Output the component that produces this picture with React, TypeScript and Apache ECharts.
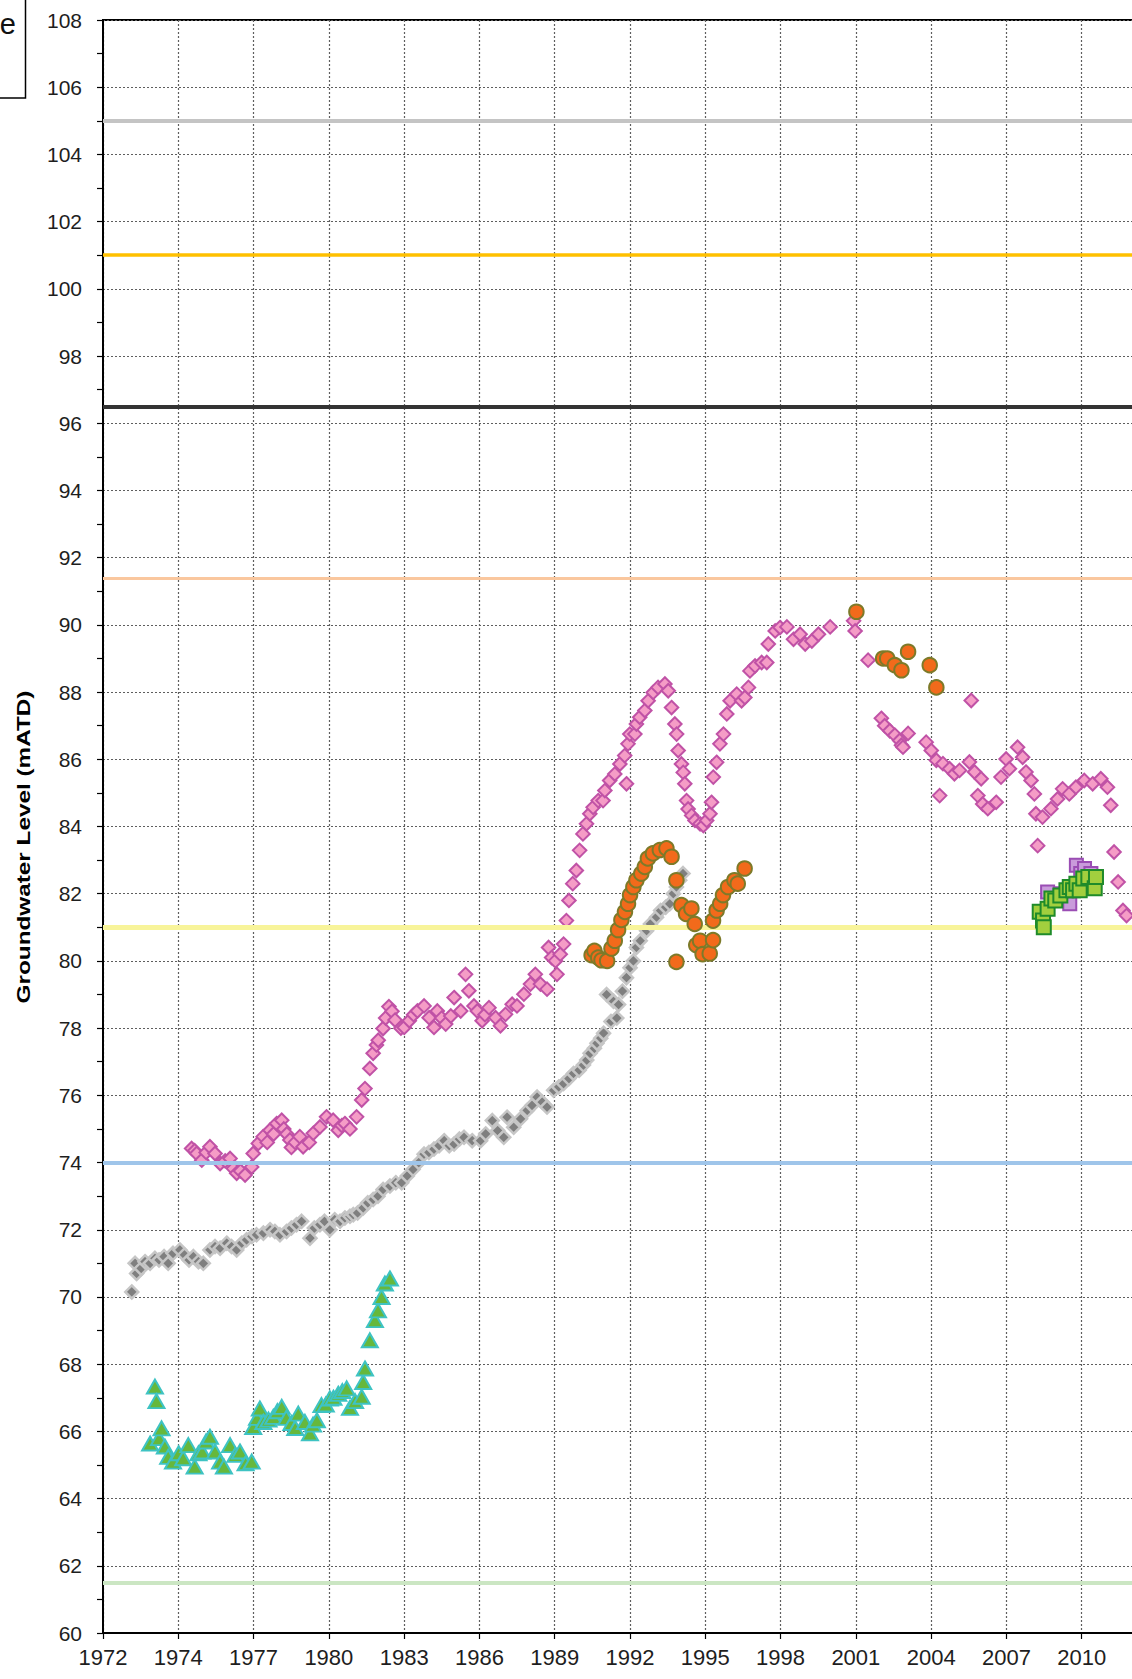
import React, { useEffect, useRef } from "react";
import * as echarts from "echarts";

// ---- axis definition -------------------------------------------------------
const X_ORIGIN = 1972; // decimal year at the left edge of the plot
const X_STEP = 1080 / 365.25; // years between labelled gridlines (~2.96)
const X_TICK_COUNT = 14;
const Y_MIN = 60;
const Y_MAX = 108;
const Y_STEP = 2;
const Y_TITLE = "Groundwater Level (mATD)";
const CORNER_TEXT = "e";

// ---- horizontal reference levels (mATD) ------------------------------------
const referenceLevels = [105, 101, 96.5, 91.4, 81, 74, 61.5];

// ---- observations: [decimal year, level mATD] ------------------------------
const grayReadings: [number, number][] = [
  [1973.13, 70.15], [1973.26, 71.0], [1973.32, 70.7], [1973.5, 70.85], [1973.65, 71.05],
  [1973.85, 71.0], [1974.04, 71.15], [1974.2, 71.1], [1974.4, 71.2], [1974.56, 71.0],
  [1974.75, 71.3], [1975.02, 71.4], [1975.2, 71.25], [1975.38, 71.1], [1975.55, 71.2],
  [1975.75, 71.05], [1975.94, 71.0], [1976.2, 71.4], [1976.4, 71.5], [1976.6, 71.45],
  [1976.86, 71.6], [1977.05, 71.5], [1977.25, 71.4], [1977.45, 71.6], [1977.64, 71.7],
  [1977.85, 71.8], [1978.03, 71.85], [1978.3, 71.9], [1978.56, 72.0], [1978.75, 71.95],
  [1978.95, 71.85], [1979.21, 71.95], [1979.4, 72.05], [1979.6, 72.15], [1979.8, 72.25],
  [1980.13, 71.75], [1980.3, 72.05], [1980.52, 72.15], [1980.7, 72.25], [1980.91, 72.0],
  [1981.1, 72.3], [1981.31, 72.25], [1981.5, 72.35], [1981.7, 72.4], [1981.83, 72.45],
  [1982.0, 72.5], [1982.22, 72.65], [1982.4, 72.8], [1982.61, 72.9], [1982.8, 73.0],
  [1983.0, 73.2], [1983.27, 73.3], [1983.5, 73.4], [1983.73, 73.4], [1983.95, 73.6],
  [1984.18, 73.8], [1984.4, 74.0], [1984.61, 74.25], [1984.8, 74.3], [1985.0, 74.4],
  [1985.2, 74.5], [1985.4, 74.65], [1985.6, 74.5], [1985.79, 74.55], [1986.0, 74.7],
  [1986.18, 74.75], [1986.5, 74.65], [1986.83, 74.65], [1987.03, 74.85], [1987.29, 75.25],
  [1987.5, 74.95], [1987.74, 74.75], [1987.87, 75.35], [1988.13, 75.05], [1988.4, 75.3],
  [1988.66, 75.55], [1988.85, 75.7], [1989.05, 75.95], [1989.25, 75.8], [1989.44, 75.65],
  [1989.7, 76.15], [1989.9, 76.25], [1990.09, 76.35], [1990.3, 76.5], [1990.48, 76.65],
  [1990.7, 76.75], [1990.87, 76.9], [1991.0, 77.05], [1991.13, 77.25], [1991.3, 77.4],
  [1991.4, 77.55], [1991.55, 77.7], [1991.66, 77.85], [1991.78, 79.0], [1991.95, 78.2],
  [1992.05, 78.8], [1992.18, 78.3], [1992.25, 78.7], [1992.4, 79.1], [1992.56, 79.5],
  [1992.7, 79.8], [1992.83, 80.0], [1992.95, 80.4], [1993.1, 80.6], [1993.35, 80.9],
  [1993.5, 81.1], [1993.74, 81.3], [1993.9, 81.5], [1994.1, 81.6], [1994.26, 81.7],
  [1994.4, 82.0], [1994.52, 82.2], [1994.65, 82.4], [1994.78, 82.6],
];

const pinkReadings: [number, number][] = [
  [1975.48, 74.42], [1975.6, 74.35], [1975.68, 74.27], [1975.88, 74.07], [1976.05, 74.3],
  [1976.2, 74.47], [1976.4, 74.27], [1976.6, 73.97], [1976.8, 74.05], [1976.99, 74.12],
  [1977.12, 73.82], [1977.25, 73.68], [1977.4, 73.75], [1977.58, 73.63], [1977.84, 73.87],
  [1977.9, 74.27], [1978.1, 74.57], [1978.29, 74.77], [1978.45, 74.6], [1978.56, 74.96],
  [1978.7, 74.85], [1978.82, 75.16], [1979.02, 75.26], [1979.1, 75.0], [1979.22, 74.85],
  [1979.34, 74.67], [1979.4, 74.45], [1979.55, 74.6], [1979.73, 74.77], [1979.86, 74.47],
  [1980.1, 74.6], [1980.26, 74.87], [1980.52, 75.06], [1980.78, 75.36], [1981.04, 75.26],
  [1981.24, 74.96], [1981.38, 75.1], [1981.5, 75.16], [1981.7, 75.0], [1981.96, 75.36],
  [1982.16, 75.86], [1982.29, 76.2], [1982.48, 76.8], [1982.61, 77.25], [1982.74, 77.5],
  [1982.81, 77.64], [1983.0, 77.99], [1983.1, 78.3], [1983.23, 78.64], [1983.35, 78.5],
  [1983.47, 78.24], [1983.7, 78.0], [1983.83, 78.02], [1984.03, 78.22], [1984.2, 78.4],
  [1984.35, 78.51], [1984.61, 78.66], [1984.81, 78.31], [1985.0, 78.02], [1985.13, 78.51],
  [1985.3, 78.3], [1985.46, 78.12], [1985.66, 78.36], [1985.79, 78.91], [1986.05, 78.51],
  [1986.24, 79.6], [1986.37, 79.11], [1986.57, 78.66], [1986.7, 78.51], [1986.89, 78.22],
  [1987.0, 78.4], [1987.16, 78.61], [1987.42, 78.31], [1987.61, 78.07], [1987.81, 78.41],
  [1988.07, 78.71], [1988.26, 78.66], [1988.53, 79.01], [1988.79, 79.31], [1988.98, 79.6],
  [1989.18, 79.31], [1989.44, 79.16], [1989.5, 80.4], [1989.62, 80.1], [1989.77, 80.0],
  [1989.83, 79.6], [1989.96, 80.2], [1990.09, 80.5], [1990.2, 81.2], [1990.3, 81.8],
  [1990.45, 82.3], [1990.59, 82.69], [1990.72, 83.29], [1990.85, 83.78], [1990.99, 84.08],
  [1991.12, 84.38], [1991.25, 84.57], [1991.45, 84.77], [1991.64, 84.77], [1991.71, 85.07],
  [1991.9, 85.37], [1992.1, 85.56], [1992.3, 85.86], [1992.49, 86.11], [1992.56, 85.27],
  [1992.62, 86.46], [1992.69, 86.75], [1992.89, 86.75], [1992.95, 87.05], [1993.08, 87.25],
  [1993.28, 87.45], [1993.41, 87.74], [1993.61, 87.99], [1993.8, 88.14], [1994.07, 88.24],
  [1994.2, 88.04], [1994.33, 87.54], [1994.46, 87.05], [1994.53, 86.75], [1994.59, 86.26],
  [1994.72, 85.86], [1994.79, 85.61], [1994.85, 85.27], [1994.92, 84.77], [1994.98, 84.52],
  [1995.12, 84.33], [1995.25, 84.18], [1995.45, 84.08], [1995.58, 84.03], [1995.71, 84.18],
  [1995.84, 84.38], [1995.9, 84.72], [1995.97, 85.47], [1996.1, 85.91], [1996.23, 86.46],
  [1996.37, 86.75], [1996.5, 87.35], [1996.63, 87.74], [1996.89, 87.94], [1997.08, 87.74],
  [1997.21, 87.84], [1997.35, 88.14], [1997.41, 88.63], [1997.61, 88.78], [1997.87, 88.88],
  [1998.07, 88.88], [1998.13, 89.43], [1998.4, 89.82], [1998.59, 89.92], [1998.86, 89.94],
  [1999.12, 89.57], [1999.38, 89.72], [1999.58, 89.43], [1999.84, 89.52], [2000.1, 89.72],
  [2000.56, 89.94], [2001.48, 90.12], [2001.54, 89.82], [2002.05, 88.95], [2002.57, 87.22],
  [2002.7, 87.0], [2002.9, 86.85], [2003.1, 86.72], [2003.29, 86.56], [2003.36, 86.42],
  [2003.42, 86.36], [2003.62, 86.77], [2004.33, 86.51], [2004.53, 86.26], [2004.73, 85.97],
  [2004.86, 84.92], [2004.99, 85.87], [2005.25, 85.72], [2005.44, 85.57], [2005.64, 85.67],
  [2006.03, 85.92], [2006.1, 87.75], [2006.23, 85.62], [2006.36, 84.92], [2006.49, 85.42],
  [2006.55, 84.67], [2006.75, 84.53], [2007.08, 84.72], [2007.27, 85.47], [2007.47, 86.01],
  [2007.6, 85.72], [2007.92, 86.36], [2008.12, 86.06], [2008.25, 85.62], [2008.45, 85.37],
  [2008.58, 84.97], [2008.64, 84.38], [2008.71, 83.43], [2008.9, 84.28], [2009.23, 84.53],
  [2009.49, 84.82], [2009.69, 85.12], [2009.95, 84.97], [2010.21, 85.17], [2010.54, 85.37],
  [2010.87, 85.27], [2011.19, 85.42], [2011.45, 85.17], [2011.58, 84.63], [2011.71, 83.24],
  [2011.87, 82.35], [2012.06, 81.5], [2012.2, 81.35],
];

const triangleReadings: [number, number][] = [
  [1973.85, 65.64], [1974.04, 67.33], [1974.1, 66.9], [1974.2, 65.8], [1974.3, 66.09],
  [1974.43, 65.55], [1974.56, 65.24], [1974.75, 65.1], [1974.97, 65.35], [1975.15, 65.2],
  [1975.35, 65.59], [1975.6, 64.95], [1975.75, 65.35], [1975.9, 65.4], [1976.05, 65.7],
  [1976.2, 65.84], [1976.4, 65.4], [1976.6, 65.1], [1976.75, 64.95], [1976.99, 65.59],
  [1977.2, 65.3], [1977.38, 65.4], [1977.6, 65.05], [1977.84, 65.1], [1977.9, 66.13],
  [1978.05, 66.4], [1978.16, 66.68], [1978.3, 66.28], [1978.5, 66.35], [1978.69, 66.43],
  [1978.85, 66.6], [1979.02, 66.73], [1979.2, 66.4], [1979.4, 66.25], [1979.55, 66.1],
  [1979.67, 66.53], [1979.93, 66.28], [1980.13, 65.94], [1980.25, 66.2], [1980.4, 66.33],
  [1980.58, 66.78], [1980.75, 66.8], [1980.91, 66.98], [1981.05, 67.0], [1981.24, 67.12],
  [1981.4, 67.2], [1981.57, 67.28], [1981.7, 66.7], [1981.9, 66.9], [1982.16, 67.03],
  [1982.22, 67.47], [1982.29, 67.87], [1982.48, 68.71], [1982.68, 69.31], [1982.8, 69.6],
  [1982.94, 70.0], [1983.07, 70.4], [1983.27, 70.55],
];

const orangeReadings: [number, number][] = [
  [1991.19, 80.17], [1991.3, 80.3], [1991.45, 80.1], [1991.58, 80.02], [1991.8, 80.0],
  [1991.97, 80.37], [1992.1, 80.6], [1992.23, 80.92], [1992.36, 81.22], [1992.5, 81.46],
  [1992.62, 81.7], [1992.7, 81.96], [1992.83, 82.2], [1992.95, 82.4], [1993.14, 82.6],
  [1993.28, 82.8], [1993.4, 83.05], [1993.6, 83.2], [1993.87, 83.3], [1994.13, 83.35],
  [1994.33, 83.1], [1994.52, 82.4], [1994.52, 79.97], [1994.72, 81.66], [1994.9, 81.4],
  [1995.11, 81.56], [1995.24, 81.1], [1995.3, 80.47], [1995.45, 80.6], [1995.55, 80.2],
  [1995.83, 80.22], [1995.96, 80.62], [1995.96, 81.2], [1996.1, 81.5], [1996.24, 81.7],
  [1996.35, 81.96], [1996.55, 82.2], [1996.8, 82.4], [1996.93, 82.3], [1997.2, 82.75],
  [2001.59, 90.39], [2002.64, 89.0], [2002.8, 89.0], [2003.1, 88.8], [2003.36, 88.65],
  [2003.62, 89.2], [2004.47, 88.8], [2004.73, 88.14],
];

const purpleSquareReadings: [number, number][] = [
  [2009.1, 82.05], [2009.6, 82.0], [2009.97, 81.7], [2010.23, 82.85], [2010.4, 82.6],
  [2010.55, 82.75], [2010.8, 82.6],
];

const greenSquareReadings: [number, number][] = [
  [2008.79, 81.46], [2008.92, 81.2], [2008.95, 81.0], [2009.1, 81.55], [2009.25, 81.86],
  [2009.4, 81.8], [2009.6, 81.95], [2009.84, 82.1], [2009.97, 82.2], [2010.1, 82.1],
  [2010.23, 82.3], [2010.36, 82.1], [2010.5, 82.45], [2010.7, 82.5], [2010.95, 82.16],
  [2011.0, 82.5],
];

// ---- styles ---------------------------------------------------------------
const referenceStyles = [
  { color: "#c4c4c4", width: 4 },
  { color: "#ffc000", width: 3.5 },
  { color: "#333333", width: 4 },
  { color: "#fac79e", width: 3 },
  { color: "#f8f49a", width: 5 },
  { color: "#9fc5ea", width: 4 },
  { color: "#cbe6c3", width: 4 },
];

const FONT = "'Liberation Sans', Arial, Helvetica, sans-serif";

const toXY = (rows: [number, number][]) => rows.map(([yr, lv]) => [yr - X_ORIGIN, lv]);

export default function App() {
  const ref = useRef<HTMLDivElement>(null);

  useEffect(() => {
    if (!ref.current) return;
    const chart = echarts.init(ref.current, undefined, { renderer: "svg" });

    const scatter = (
      name: string,
      rows: [number, number][],
      symbol: string,
      size: number | number[],
      fill: string,
      stroke: string,
      borderWidth: number,
      z: number
    ) => ({
      name,
      type: "scatter",
      data: toXY(rows),
      symbol,
      symbolSize: size,
      z,
      silent: true,
      itemStyle: { color: fill, borderColor: stroke, borderWidth, opacity: 1 },
    });

    const gridLine = { show: true, lineStyle: { color: "#5e5e5e", width: 1.2, type: [2, 2] } };

    chart.setOption({
      animation: false,
      backgroundColor: "#ffffff",
      grid: {
        left: 103,
        top: 20,
        right: 43,
        bottom: 46,
        show: true,
        borderColor: "#000000",
        borderWidth: 2,
        containLabel: false,
        outerBoundsMode: "none",
      },
      xAxis: {
        type: "value",
        min: 0,
        max: X_TICK_COUNT * X_STEP,
        interval: X_STEP,
        axisLine: { show: true, onZero: false, lineStyle: { color: "#000000", width: 2 } },
        axisTick: { show: true, length: 6, lineStyle: { color: "#000000", width: 1.2 } },
        splitLine: gridLine,
        axisLabel: {
          margin: 13,
          fontSize: 22,
          fontFamily: FONT,
          color: "#1e1e1e",
          showMaxLabel: false,
          formatter: (v: number) => {
            const idx = Math.round(v / X_STEP);
            if (idx >= X_TICK_COUNT) return "";
            return String(Math.floor(X_ORIGIN + v + 1e-6));
          },
        },
      },
      yAxis: {
        type: "value",
        min: Y_MIN,
        max: Y_MAX,
        interval: Y_STEP,
        axisLine: { show: true, onZero: false, lineStyle: { color: "#000000", width: 2 } },
        axisTick: { show: true, length: 6, lineStyle: { color: "#000000", width: 1.2 } },
        minorTick: { show: true, splitNumber: 2, length: 6, lineStyle: { color: "#000000", width: 1.2 } },
        splitLine: gridLine,
        axisLabel: { margin: 21, fontSize: 21, fontFamily: FONT, color: "#1e1e1e" },
      },
      graphic: [
        {
          type: "rect",
          shape: { x: -4, y: -4, width: 29.5, height: 102 },
          style: { fill: "#ffffff", stroke: "#000000", lineWidth: 1.5 },
          z: 100,
        },
        {
          type: "text",
          x: 16,
          y: 24,
          z: 101,
          style: {
            text: CORNER_TEXT,
            fontSize: 29,
            fontFamily: FONT,
            fill: "#111111",
            textAlign: "right",
            textVerticalAlign: "middle",
          },
        },
        {
          type: "text",
          x: 23,
          y: 847,
          rotation: Math.PI / 2,
          scaleX: 1.28,
          z: 101,
          style: {
            text: Y_TITLE,
            fontSize: 19,
            fontWeight: "bold",
            fontFamily: FONT,
            fill: "#000000",
            textAlign: "center",
            textVerticalAlign: "middle",
          },
        },
      ],
      series: [
        {
          name: "reference levels",
          type: "line",
          data: [],
          z: 1,
          silent: true,
          markLine: {
            silent: true,
            symbol: ["none", "none"],
            label: { show: false },
            emphasis: { disabled: true },
            animation: false,
            data: referenceLevels.map((lv, i) => ({
              yAxis: lv,
              lineStyle: { color: referenceStyles[i].color, width: referenceStyles[i].width, type: "solid" },
            })),
          },
        },
        scatter("Gray", grayReadings, "diamond", 13, "#7f7f7f", "#c6c6c6", 2.5, 3),
        scatter("Pink", pinkReadings, "diamond", 13.5, "#f59cc6", "#c052a6", 2, 4),
        scatter("Triangles", triangleReadings, "triangle", [16, 14], "#66b83c", "#3ec3c3", 2, 5),
        scatter("Orange", orangeReadings, "circle", 14.5, "#f26a1b", "#7d7a29", 2, 6),
        scatter("Purple squares", purpleSquareReadings, "rect", 13, "#c99bdb", "#9a4db4", 2, 7),
        scatter("Green squares", greenSquareReadings, "rect", 14, "#a2cf3e", "#1f8b2a", 2, 8),
      ],
    });

    return () => chart.dispose();
  }, []);

  return (
    <div
      style={{
        position: "absolute",
        left: 0,
        top: 0,
        width: 1132,
        height: 1679,
        overflow: "hidden",
        background: "#ffffff",
      }}
    >
      <div ref={ref} style={{ width: 1200, height: 1679 }} />
    </div>
  );
}
